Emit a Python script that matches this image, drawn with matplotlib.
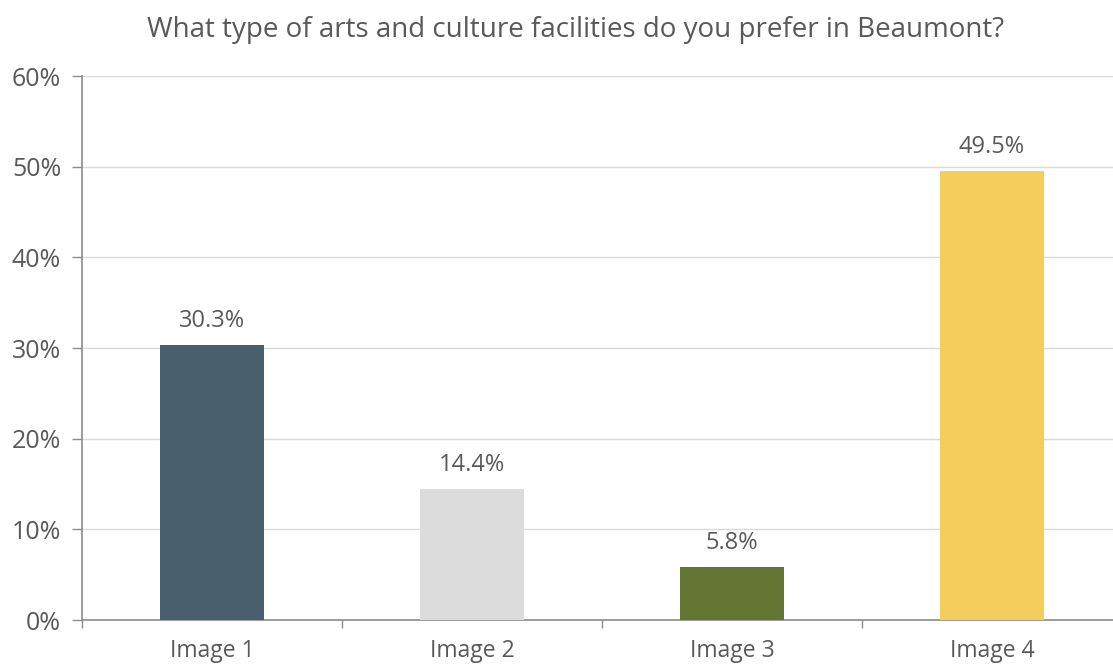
import matplotlib.pyplot as plt
from matplotlib.ticker import FuncFormatter

# Survey results
categories = ['Image 1', 'Image 2', 'Image 3', 'Image 4']
shares = [30.3, 14.4, 5.8, 49.5]
colors = ['#4A5F6D', '#DCDCDC', '#647432', '#F4CD5C']

plt.rcParams['font.family'] = ['Open Sans', 'DejaVu Sans']
text_color = '#595959'
axis_color = '#8C8C8C'

fig = plt.figure(figsize=(11.13, 6.69), dpi=100)
ax = fig.add_axes([82 / 1113, 49 / 669, 1040 / 1113, 544 / 669])

x = range(len(categories))
ax.bar(x, shares, width=0.4, color=colors, zorder=3)

for xi, v in zip(x, shares):
    ax.text(xi, v + 1.4, f'{v:.1f}%', ha='center', va='bottom',
            fontsize=17, color=text_color)

ax.set_xlim(-0.5, 3.5)
ax.set_ylim(0, 60)
ax.set_yticks(range(0, 61, 10))
ax.yaxis.set_major_formatter(FuncFormatter(lambda v, p: f'{v:.0f}%'))
ax.grid(axis='y', color='#D9D9D9', linewidth=1, zorder=0)

# category labels centred, tick marks on the boundaries
ax.set_xticks([-0.5, 0.5, 1.5, 2.5, 3.5])
ax.set_xticklabels([])
ax.set_xticks(list(x), minor=True)
ax.set_xticklabels(categories, minor=True)
ax.tick_params(axis='x', which='major', length=6, width=1, color=axis_color)
ax.tick_params(axis='x', which='minor', length=0, pad=14,
               labelsize=16.5, labelcolor=text_color)
ax.tick_params(axis='y', length=7, width=1, color=axis_color,
               labelsize=18, labelcolor=text_color, pad=8)

for side in ['top', 'right']:
    ax.spines[side].set_visible(False)
for side in ['left', 'bottom']:
    ax.spines[side].set_color(axis_color)
    ax.spines[side].set_linewidth(1.2)

fig.text(576 / 1113, 1 - 30 / 669,
         'What type of arts and culture facilities do you prefer in Beaumont?',
         ha='center', va='center', fontsize=20, color=text_color)

fig.savefig('out.png', dpi=100)
